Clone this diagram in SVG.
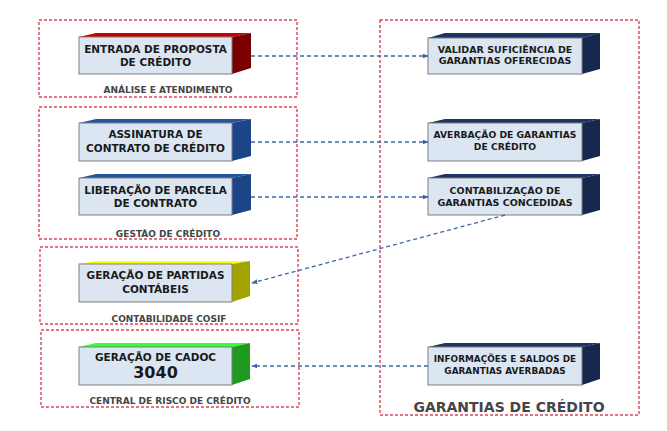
<svg xmlns="http://www.w3.org/2000/svg" width="667" height="431" viewBox="0 0 667 431">
<defs>
<marker id="arr" viewBox="0 0 10 10" refX="9" refY="5" markerWidth="6" markerHeight="6" orient="auto" markerUnits="userSpaceOnUse">
<path d="M0,1 L10,5 L0,9 z" fill="#3b65a8"/>
</marker>
</defs>
<style>
.zone{fill:none;stroke:#dc4455;stroke-width:1.4;stroke-dasharray:3 2}
.front{fill:#dce6f2;stroke:#7f7f7f;stroke-width:1}
.t{font-family:"DejaVu Sans",Verdana,sans-serif;font-weight:bold;fill:#1a1a1a;text-anchor:middle}
.n{font-size:10.5px}
.s{font-size:9.5px}
.g{font-family:"DejaVu Sans",Verdana,sans-serif;font-weight:bold;fill:#454545;text-anchor:middle;font-size:9px}
.conn{fill:none;stroke:#3b65a8;stroke-width:1.3;stroke-dasharray:4 3;marker-end:url(#arr)}
</style>
<rect width="667" height="431" fill="#ffffff"/>
<g id="zones">
<rect class="zone" x="39" y="20" width="258" height="77"/>
<rect class="zone" x="39" y="107" width="258" height="132"/>
<rect class="zone" x="40" y="247" width="258" height="77"/>
<rect class="zone" x="41" y="330" width="258" height="77"/>
<rect class="zone" x="380" y="20" width="259" height="395"/>
<text class="g" x="168" y="93">ANÁLISE E ATENDIMENTO</text>
<text class="g" x="168" y="237">GESTÃO DE CRÉDITO</text>
<text class="g" x="169" y="322">CONTABILIDADE COSIF</text>
<text class="g" x="170" y="404">CENTRAL DE RISCO DE CRÉDITO</text>
<text class="g" x="509" y="412" style="font-size:14px">GARANTIAS DE CRÉDITO</text>
</g>
<g id="entrada">
<polygon points="79,37 96,33 251,33 232,37" fill="#cc0000"/>
<polygon points="232,37 251,33 251,68 232,74" fill="#7a0000"/>
<rect class="front" x="79" y="37" width="153" height="37"/>
<text class="t n" x="155.5" y="53">ENTRADA DE PROPOSTA</text>
<text class="t n" x="155.5" y="66">DE CRÉDITO</text>
</g>
<g id="validar">
<polygon points="428,38 445,33 600,33 582,38" fill="#1b3560"/>
<polygon points="582,38 600,33 600,69 582,74" fill="#14294d"/>
<rect class="front" x="428" y="38" width="154" height="36"/>
<text class="t s" x="505" y="53">VALIDAR SUFICIÊNCIA DE</text>
<text class="t s" x="505" y="64">GARANTIAS OFERECIDAS</text>
</g>
<g id="assinatura">
<polygon points="79,123 96,119 251,119 232,123" fill="#2456a0"/>
<polygon points="232,123 251,119 251,156 232,161" fill="#1c4587"/>
<rect class="front" x="79" y="123" width="153" height="38"/>
<text class="t n" x="155.5" y="138">ASSINATURA DE</text>
<text class="t n" x="155.5" y="152">CONTRATO DE CRÉDITO</text>
</g>
<g id="liberacao">
<polygon points="79,178 96,174 251,174 232,178" fill="#2456a0"/>
<polygon points="232,178 251,174 251,210 232,215" fill="#1c4587"/>
<rect class="front" x="79" y="178" width="153" height="37"/>
<text class="t n" x="155.5" y="194">LIBERAÇÃO DE PARCELA</text>
<text class="t n" x="155.5" y="207">DE CONTRATO</text>
</g>
<g id="averbacao">
<polygon points="428,123 445,119 600,119 582,123" fill="#1b3560"/>
<polygon points="582,123 600,119 600,156 582,161" fill="#14294d"/>
<rect class="front" x="428" y="123" width="154" height="38"/>
<text class="t" x="505" y="138" style="font-size:9.2px">AVERBAÇÃO DE GARANTIAS</text>
<text class="t" x="505" y="150" style="font-size:9.2px">DE CRÉDITO</text>
</g>
<g id="contabilizacao">
<polygon points="428,178 445,174 600,174 582,178" fill="#1b3560"/>
<polygon points="582,178 600,174 600,210 582,215" fill="#14294d"/>
<rect class="front" x="428" y="178" width="154" height="37"/>
<text class="t s" x="505" y="194">CONTABILIZAÇÃO DE</text>
<text class="t s" x="505" y="206">GARANTIAS CONCEDIDAS</text>
</g>
<g id="partidas">
<polygon points="79,264 96,261 250,261 232,264" fill="#ffff00"/>
<polygon points="232,264 250,261 250,296 232,302" fill="#a3a300"/>
<rect class="front" x="79" y="264" width="153" height="38"/>
<text class="t n" x="155.5" y="279">GERAÇÃO DE PARTIDAS</text>
<text class="t n" x="155.5" y="293">CONTÁBEIS</text>
</g>
<g id="cadoc">
<polygon points="79,347 96,343 250,343 232,347" fill="#33ff33"/>
<polygon points="232,347 250,343 250,379 232,385" fill="#1f9a1f"/>
<rect class="front" x="79" y="347" width="153" height="38"/>
<text class="t n" x="155.5" y="361">GERAÇÃO DE CADOC</text>
<text class="t" x="155.5" y="378" style="font-size:16px">3040</text>
</g>
<g id="informacoes">
<polygon points="428,347 445,343 600,343 582,347" fill="#1b3560"/>
<polygon points="582,347 600,343 600,379 582,385" fill="#14294d"/>
<rect class="front" x="428" y="347" width="154" height="38"/>
<text class="t" x="505" y="362" style="font-size:8.9px">INFORMAÇÕES E SALDOS DE</text>
<text class="t" x="505" y="374" style="font-size:8.9px">GARANTIAS AVERBADAS</text>
</g>
<g id="connectors">
<path class="conn" d="M251,56 L428,56"/>
<path class="conn" d="M251,142 L428,142"/>
<path class="conn" d="M251,197 L428,197"/>
<path class="conn" d="M505,215 L252,283"/>
<path class="conn" d="M428,366 L252,366"/>
</g>
</svg>
